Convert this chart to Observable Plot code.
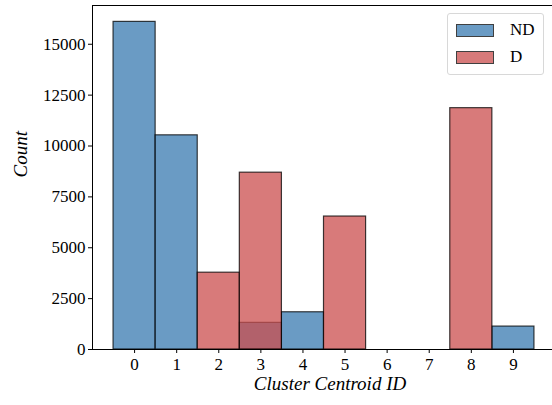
<!DOCTYPE html>
<html>
<head>
<meta charset="utf-8">
<script src="https://cdn.jsdelivr.net/npm/d3@7"></script>
<script src="https://cdn.jsdelivr.net/npm/@observablehq/plot@0.6"></script>
<style>
  html, body { margin: 0; padding: 0; background: #fff; }
  #wrap { position: relative; width: 552px; height: 405px; overflow: hidden; font-family: "Liberation Serif", "Times New Roman", serif; }
  #chart svg, #chart svg text, #chart svg g { font-family: "Liberation Serif", "Times New Roman", serif !important; }
  #legend { position: absolute; left: 447px; top: 13px; width: 97px; height: 62px; border: 1px solid #d8d8d8; border-radius: 3px; background: rgba(255,255,255,0.85); box-sizing: border-box; }
  .item { position: absolute; left: 8px; display: flex; align-items: center; font-size: 17px; color: #000; }
  .sw { width: 38px; height: 13px; border: 1px solid #404040; box-sizing: border-box; margin-right: 16px; }
</style>
</head>
<body>
<div id="wrap">
  <div id="chart"></div>
  <div id="legend">
    <div class="item" style="top:6px"><div class="sw" style="background:#6a9bc4"></div><span>ND</span></div>
    <div class="item" style="top:33px"><div class="sw" style="background:#d77a7a"></div><span>D</span></div>
  </div>
</div>
<script>
const clusterIds = [0, 1, 2, 3, 4, 5, 6, 7, 8, 9];
const ndCounts = [16100, 10525, 0, 1310, 1830, 0, 0, 0, 0, 1127];
const dCounts = [0, 0, 3775, 8690, 0, 6535, 0, 0, 11860, 0];
const yTicks = [0, 2500, 5000, 7500, 10000, 12500, 15000];

const ndColor = "rgb(56,122,176)";
const dColor = "rgb(203,78,78)";
const serif = "'Liberation Serif', 'Times New Roman', serif";

const nd = clusterIds.map((id, i) => ({id, count: ndCounts[i]}));
const dd = clusterIds.map((id, i) => ({id, count: dCounts[i]}));

const chart = Plot.plot({
  width: 552,
  height: 405,
  marginLeft: 92,
  marginRight: -3,
  marginTop: 5,
  marginBottom: 56,
  style: {fontFamily: serif, fontSize: "17px", color: "#000", background: "transparent"},
  x: {domain: [-1, 10], label: null},
  y: {domain: [0, 16905], label: null},
  marks: [
    Plot.rect(nd, {x1: d => d.id - 0.5, x2: d => d.id + 0.5, y1: 0, y2: "count", fill: ndColor, fillOpacity: 0.75, stroke: "#000", strokeOpacity: 0.75, strokeWidth: 1.2}),
    Plot.rect(dd, {x1: d => d.id - 0.5, x2: d => d.id + 0.5, y1: 0, y2: "count", fill: dColor, fillOpacity: 0.75, stroke: "#000", strokeOpacity: 0.75, strokeWidth: 1.2}),
    Plot.frame({stroke: "#000", strokeWidth: 1}),
    Plot.axisX({ticks: clusterIds, tickFormat: d3.format("d"), tickSize: 4, tickPadding: 4, fontSize: 17, fontFamily: serif, label: null}),
    Plot.axisY({ticks: yTicks, tickFormat: d3.format("d"), tickSize: 4, tickPadding: 3, fontSize: 17, fontFamily: serif, label: null}),
    Plot.text(["Cluster Centroid ID"], {frameAnchor: "bottom", dx: 6, dy: 40, fontSize: 19, fontStyle: "italic", fontFamily: serif, fill: "#000"}),
    Plot.text(["Count"], {frameAnchor: "left", dx: -72, rotate: -90, fontSize: 19, fontStyle: "italic", fontFamily: serif, fill: "#000"})
  ]
});
chart.querySelectorAll("text, g").forEach(t => { t.setAttribute("font-family", serif); t.style.fontFamily = serif; });
document.getElementById("chart").appendChild(chart);
</script>
</body>
</html>
